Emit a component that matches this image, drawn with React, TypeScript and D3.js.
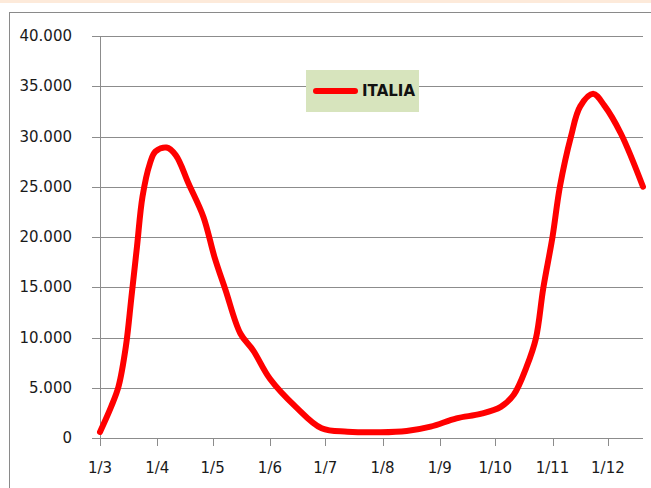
import React from "react";
import * as d3 from "d3";

const dates = [
  "2020-03-01", "2020-03-07", "2020-03-11", "2020-03-15", "2020-03-18", "2020-03-21",
  "2020-03-24", "2020-03-28", "2020-03-31", "2020-04-06", "2020-04-11", "2020-04-18",
  "2020-04-26", "2020-05-02", "2020-05-08", "2020-05-16", "2020-05-23", "2020-06-01",
  "2020-06-15", "2020-06-29", "2020-07-13", "2020-07-31", "2020-08-14", "2020-08-27",
  "2020-09-10", "2020-09-23", "2020-10-04", "2020-10-11", "2020-10-18", "2020-10-23",
  "2020-10-27", "2020-11-01", "2020-11-05", "2020-11-11", "2020-11-16", "2020-11-23",
  "2020-11-29", "2020-12-08", "2020-12-20",
];
const italia = [
  600, 3100, 5100, 9100, 14000, 19000,
  24000, 27300, 28500, 28900, 28150, 25300,
  22000, 18000, 14700, 10400, 8700, 5900,
  3100, 960, 630, 570, 700, 1130,
  1960, 2400, 3100, 4300, 7100, 9900,
  14900, 20000, 25000, 30000, 33000, 34250,
  33100, 30300, 25000,
];
const yTicks = [0, 5000, 10000, 15000, 20000, 25000, 30000, 35000, 40000];
const seriesName = "ITALIA";

const W = 651;
const H = 488;
const left = 100;
const right = 643;
const top = 36;
const bottom = 438;

const fmtLocale = d3.formatLocale({
  decimal: ",",
  thousands: ".",
  grouping: [3],
  currency: ["", "€"],
});
const fmt = fmtLocale.format(",.0f");

export default function App() {
  const parse = d3.timeParse("%Y-%m-%d");
  const data = dates.map((d, i) => ({ date: parse(d) as Date, v: italia[i] }));
  const x = d3
    .scaleTime()
    .domain([parse("2020-03-01") as Date, parse("2020-12-20") as Date])
    .range([left, right]);
  const y = d3.scaleLinear().domain([0, 40000]).range([bottom, top]);
  const line = d3
    .line<{ date: Date; v: number }>()
    .x((d) => x(d.date))
    .y((d) => y(d.v))
    .curve(d3.curveCatmullRom.alpha(0.5));
  const xTicks = d3.timeMonth.range(parse("2020-03-01") as Date, parse("2020-12-02") as Date);
  const grid = "#8c8c8c";
  const font = "DejaVu Sans, Verdana, sans-serif";

  return (
    <svg
      width={W}
      height={H}
      style={{ position: "absolute", left: 0, top: 0, background: "#fff" }}
    >
      <rect x={0} y={0} width={W} height={3} fill="#FDEADA" />
      <rect x={9.5} y={12.5} width={W + 10} height={H} fill="#fff" stroke="#8a8a8a" strokeWidth={1} />
      {yTicks.map((t) => (
        <g key={t}>
          <line x1={92} x2={right} y1={Math.round(y(t)) + 0.5} y2={Math.round(y(t)) + 0.5} stroke={grid} strokeWidth={1} />
          <text
            x={72}
            y={y(t)}
            textAnchor="end"
            dominantBaseline="central"
            fontFamily={font}
            fontSize={15}
            fill="#1a1a1a"
          >
            {t === 0 ? "0" : fmt(t)}
          </text>
        </g>
      ))}
      <line x1={left + 0.5} x2={left + 0.5} y1={y(40000)} y2={bottom + 7} stroke={grid} strokeWidth={1} />
      {xTicks.map((d, i) => (
        <g key={i}>
          <line
            x1={Math.round(x(d)) + 0.5}
            x2={Math.round(x(d)) + 0.5}
            y1={bottom}
            y2={bottom + 8}
            stroke={grid}
            strokeWidth={1}
          />
          <text
            x={x(d)}
            y={468}
            textAnchor="middle"
            dominantBaseline="central"
            fontFamily={font}
            fontSize={15}
            fill="#1a1a1a"
          >
            {`1/${d.getMonth() + 1}`}
          </text>
        </g>
      ))}
      <path
        d={line(data) || ""}
        fill="none"
        stroke="#FF0000"
        strokeWidth={6}
        strokeLinecap="round"
        strokeLinejoin="round"
      />
      <rect x={306} y={70} width={113} height={42} fill="#D7E4BD" />
      <line x1={316} x2={355} y1={91} y2={91} stroke="#FF0000" strokeWidth={6} strokeLinecap="round" />
      <text
        x={362}
        y={91}
        dominantBaseline="central"
        fontFamily={font}
        fontWeight="bold"
        fontSize={15}
        fill="#111"
      >
        {seriesName}
      </text>
    </svg>
  );
}
